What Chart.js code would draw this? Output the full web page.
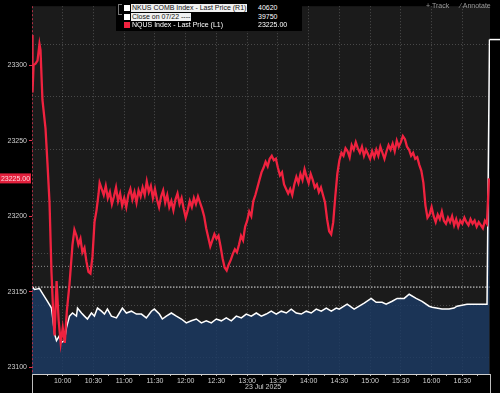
<!DOCTYPE html>
<html><head><meta charset="utf-8">
<script src="https://cdn.jsdelivr.net/npm/chart.js@4.4.1/dist/chart.umd.min.js"></script>
<style>
html,body{margin:0;padding:0;background:#000;width:500px;height:393px;overflow:hidden;font-family:"Liberation Sans",Arial,sans-serif;}
#c{position:absolute;left:0;top:0;}
#lg{position:absolute;left:116px;top:0;width:186px;height:31px;background:#000;}
#lg .br{position:absolute;left:2px;top:4px;width:3px;height:9px;border:1px solid #777;border-right:none;}
.row{position:absolute;left:0;height:8px;width:186px;font-size:7px;line-height:8px;color:#fff;white-space:nowrap;}
.sq{position:absolute;left:8px;top:1px;width:6px;height:6px;}
.t{position:absolute;left:15px;top:0;padding:0 1px;}
.hl{background:#f0f0f0;color:#111;}
.v{position:absolute;left:142px;top:0;}
.tool{position:absolute;top:2px;font-size:7px;line-height:8px;color:#9a9a9a;white-space:nowrap;}
#date{position:absolute;left:245px;top:383px;font-size:7px;line-height:8px;color:#cfcfcf;white-space:nowrap;}
</style></head><body>
<canvas id="c" width="500" height="393"></canvas>
<div id="lg">
  <div class="br"></div>
  <div class="row" style="top:4px"><span class="sq" style="background:#fff"></span><span class="t hl">NKUS COMB Index - Last Price (R1)</span><span class="v">40620</span></div>
  <div class="row" style="top:12.5px"><span class="sq" style="background:#fff"></span><span class="t hl">Close on 07/22 ----</span><span class="v">39750</span></div>
  <div class="row" style="top:21px"><span class="sq" style="background:#f0223f"></span><span class="t">NQUS Index - Last Price (L1)</span><span class="v">23225.00</span></div>
</div>
<div class="tool" style="left:426px">+ Track</div>
<div class="tool" style="left:460px">⁄ Annotate</div>
<div id="date">23 Jul 2025</div>
<script>
// minutes after 09:30 session open
const nqTimes = [0,0.5,1.5,3.4,5.4,7.3,8.3,10.2,13.2,15.1,17.1,19,21,22,24,26,28,30,32,34,36.6,39.5,41.4,43.4,45.3,47.3,49.2,51.2,53.1,55.1,57,59,61,63,65,66,
68,70,72,74,76,78,80,82,84,86,
88,90,92,94,96,98,100,102,104,106,
108,110,112,114,116,118,120,122,124,126,
128,130,132,134,136,138,140,142,144,146,
148,150,152,154,156,158,160,162,164,166,
168,170,172,174,176,178,180,182,184,186,
188,190,192,194,196,198,200,202,204,206,
208,210,212,214,216,218,220,222,224,226,
228,230,232,234,236,238,240,242,244,246,
248,250,252,254,256,258,260,262,264,266,
268,270,272,274,276,278,280,282,284,286,
288,290,292,294,296,298,300,302,304,306,
308,310,312,314,316,318,320,322,324,326,
328,330,332,334,336,338,340,342,344,346,
348,350,352,354,356,358,360,362,364,366,
368,370,372,374,376,378,380,382,384,386,
388,390,392,394,396,398,400,402,404,406,
408,410,412,414,416,418,420,422,424,426,
428,430,432,434,436,438,440,442,444,446];
const nqValues = [23320,23282,23300,23301,23303,23314,23310,23277,23258,23235,23209,23163,23131,23121,23157,23131,23116,23126,23116,23137,23155,23181,23191,23187,23181,23185,23176,23179,23170,23163,23162,23173,23196,23204,23215,23222,
23218,23214,23220,23212,23216,23208,23213,23219,23210,23215,
23207,23212,23206,23214,23218,23211,23216,23209,23217,23213,
23219,23214,23223,23216,23220,23212,23218,23211,23206,23213,
23217,23209,23214,23206,23210,23204,23211,23215,23208,23212,
23205,23199,23204,23210,23206,23212,23208,23213,23209,23205,
23200,23192,23186,23180,23184,23188,23185,23187,23180,23172,
23166,23164,23168,23171,23175,23178,23176,23181,23187,23184,
23193,23197,23203,23200,23210,23214,23219,23224,23229,23232,
23236,23233,23238,23240,23237,23238,23232,23227,23229,23221,
23218,23215,23218,23214,23221,23226,23222,23228,23224,23231,
23226,23222,23228,23224,23219,23221,23216,23219,23214,23209,
23198,23190,23188,23196,23213,23228,23237,23242,23240,23245,
23243,23239,23247,23244,23249,23245,23242,23246,23240,23244,
23241,23238,23243,23239,23244,23240,23246,23242,23238,23243,
23247,23244,23248,23243,23250,23246,23249,23253,23251,23246,
23244,23240,23242,23238,23239,23234,23230,23222,23207,23199,
23201,23206,23200,23196,23201,23198,23203,23197,23195,23199,
23196,23200,23194,23198,23193,23197,23195,23199,23196,23194,
23198,23195,23197,23193,23196,23194,23192,23197,23195,23225];

const nkTimes = [0,2.4,7.3,10.2,15.1,19,20,22,23.9,26.8,28.8,31.7,33.6,36.6,39.5,43.4,44.4,48.3,51.2,54.1,58,60.9,63.9,67.8,70.7,73.6,77.5,82.4,85.3,88.2,92.1,97,101.9,106.8,111.6,116.5,119.4,124.3,127.2,131.1,136,140.9,
145.8,150.6,155.5,160.4,165.3,170.1,175,179.9,184.8,189.6,194.5,199.4,204.3,209.1,214,218.9,223.8,228.6,233.5,238.4,243.3,248.2,253,257.9,262.8,267.7,272.5,277.4,282.3,287.2,292.1,297,299.8,
307.6,314.4,324.2,331,335.9,341.7,345.6,351.5,356.4,363.2,368.1,374.9,380.7,387.6,390.5,400.2,407,411.9,414.8,424.6,444.1,446.5];
const nkValues = [39673,39661,39665,39646,39616,39590,39559,39492,39465,39484,39458,39465,39514,39559,39571,39559,39590,39571,39559,39548,39571,39559,39590,39578,39567,39586,39559,39552,39571,39590,39571,39578,39567,39567,39552,39578,39586,39567,39548,39559,39571,39559,
39548,39533,39541,39548,39533,39541,39533,39548,39541,39552,39541,39559,39552,39567,39559,39571,39559,39567,39578,39567,39578,39571,39586,39571,39567,39578,39571,39586,39578,39590,39578,39590,39586,
39605,39586,39609,39627,39612,39612,39605,39616,39627,39627,39643,39627,39616,39597,39593,39586,39586,39590,39597,39605,39605,40620];

const nkPrevClose = 39750;   // Close on 07/22 (R1)
const nqRefLevel = 23153;    // white dotted reference (L1)
const sessionOpen = '09:30';
const xEnd = 447;
const timeLabels = ['10:00','10:30','11:00','11:30','12:00','12:30','13:00','13:30','14:00','14:30','15:00','15:30','16:00','16:30'];
const leftTicks = [23100,23150,23200,23250,23300];
const rightGrid = [39400,39600,39800,40000,40200,40400,40600];

const toMin = s => { const [h,m] = s.split(':').map(Number); return h*60+m; };
const openMin = toMin(sessionOpen);
const labelAt = {};
timeLabels.forEach(l => labelAt[toMin(l)-openMin] = l);
const majors = timeLabels.map(l => toMin(l)-openMin);
const xTicks = [];
majors.forEach(v => { xTicks.push(v-15); xTicks.push(v); });
xTicks.push(majors[majors.length-1]+15);

const nqData = nqTimes.map((t,i)=>({x:t,y:nqValues[i]}));
const nkData = nkTimes.map((t,i)=>({x:t,y:nkValues[i]}));

const FONT = {family:'"Liberation Sans", Arial, sans-serif', size:7};

const bgPlugin = {
  id:'bg',
  beforeDraw(chart){
    const {ctx, chartArea:a} = chart;
    ctx.save();
    ctx.fillStyle = '#000';
    ctx.fillRect(0,0,chart.width,chart.height);
    ctx.fillStyle = '#1b1b1b';
    ctx.fillRect(a.left,a.top,a.right-a.left,a.bottom-a.top);
    ctx.restore();
  }
};
const overlayPlugin = {
  id:'overlay',
  afterDraw(chart){
    const {ctx, chartArea:a, scales} = chart;
    ctx.save();
    ctx.strokeStyle = 'rgba(200,50,75,0.85)';
    ctx.lineWidth = 1;
    ctx.setLineDash([2,2]);
    ctx.beginPath(); ctx.moveTo(a.left+0.5,a.top); ctx.lineTo(a.left+0.5,a.bottom); ctx.stroke();
    ctx.setLineDash([]);
    ctx.strokeStyle = '#bdbdbd';
    ctx.beginPath();
    ctx.moveTo(a.left+0.5,a.bottom); ctx.lineTo(a.left+0.5,chart.height);
    ctx.moveTo(a.right+0.5,a.bottom); ctx.lineTo(a.right+0.5,chart.height);
    ctx.stroke();
    const lx = scales.x.getPixelForValue(nkTimes[nkTimes.length-1]);
    const ly = scales.yR.getPixelForValue(nkValues[nkValues.length-1]);
    ctx.strokeStyle = '#fff'; ctx.lineWidth = 1.5;
    ctx.beginPath(); ctx.moveTo(lx,ly); ctx.lineTo(chart.width,ly); ctx.stroke();
    const lastNq = nqValues[nqValues.length-1];
    const ty = scales.yL.getPixelForValue(lastNq);
    ctx.fillStyle = '#e3203d';
    ctx.fillRect(0,ty-5,31,10);
    ctx.fillStyle = '#ffd6dc';
    ctx.font = '7px "Liberation Sans", Arial, sans-serif';
    ctx.textAlign = 'center'; ctx.textBaseline = 'middle';
    ctx.fillText(lastNq.toFixed(2),15.5,ty+0.5);
    ctx.restore();
  }
};

new Chart(document.getElementById('c'), {
  type:'line',
  data:{datasets:[
    {label:'NQUS Index - Last Price (L1)', data:nqData, yAxisID:'yL', borderColor:'#f0223f', borderWidth:2.3, pointRadius:0, tension:0, fill:false, order:0},
    {label:'NKUS COMB Index - Last Price (R1)', data:nkData, yAxisID:'yR', borderColor:'#ffffff', borderWidth:1.5, pointRadius:0, tension:0, fill:'start', backgroundColor:'rgba(28,58,100,0.82)', order:1},
    {label:'Close on 07/22', data:[{x:0,y:nkPrevClose},{x:xEnd,y:nkPrevClose}], yAxisID:'yR', borderColor:'rgba(255,255,255,0.5)', borderDash:[1,2], borderWidth:1, pointRadius:0, fill:false, order:2},
    {label:'ref', data:[{x:0,y:nqRefLevel},{x:xEnd,y:nqRefLevel}], yAxisID:'yL', borderColor:'rgba(255,255,255,0.9)', borderDash:[1.5,1.5], borderWidth:1, pointRadius:0, fill:false, order:3}
  ]},
  options:{
    responsive:false, animation:false, devicePixelRatio:1,
    layout:{padding:0},
    plugins:{legend:{display:false}, tooltip:{enabled:false}},
    scales:{
      x:{type:'linear', min:0, max:xEnd,
        afterBuildTicks(s){ s.ticks = xTicks.map(v=>({value:v})); },
        afterFit(s){ s.height = 19; },
        ticks:{autoSkip:false, maxRotation:0, color:'#d2d2d2', font:FONT, padding:1, callback:v => labelAt[v] || ''},
        grid:{color:c => (c.tick && labelAt[c.tick.value]) ? 'rgba(255,255,255,0.22)' : 'rgba(0,0,0,0)', tickColor:'#bbbbbb', tickLength:2, lineWidth:1},
        border:{display:true, color:'#cfcfcf', width:1, dash:[1,2]}
      },
      yL:{position:'left', min:23095.4, max:23339.1,
        afterBuildTicks(s){ s.ticks = leftTicks.map(v=>({value:v})); },
        afterFit(s){ s.width = 32; },
        ticks:{color:'#cfcfcf', font:FONT, padding:2, callback:v => String(v)},
        grid:{drawOnChartArea:false, drawTicks:true, tickLength:3, tickColor:'#e0304a'},
        border:{display:false}
      },
      yR:{position:'right', min:39337, max:40748,
        afterBuildTicks(s){ s.ticks = rightGrid.map(v=>({value:v})); },
        afterFit(s){ s.width = 10; },
        ticks:{display:false},
        grid:{color:'rgba(255,255,255,0.2)', drawTicks:false, lineWidth:1},
        border:{display:false, dash:[1,2]}
      }
    }
  },
  plugins:[bgPlugin, overlayPlugin]
});
</script>
</body></html>
